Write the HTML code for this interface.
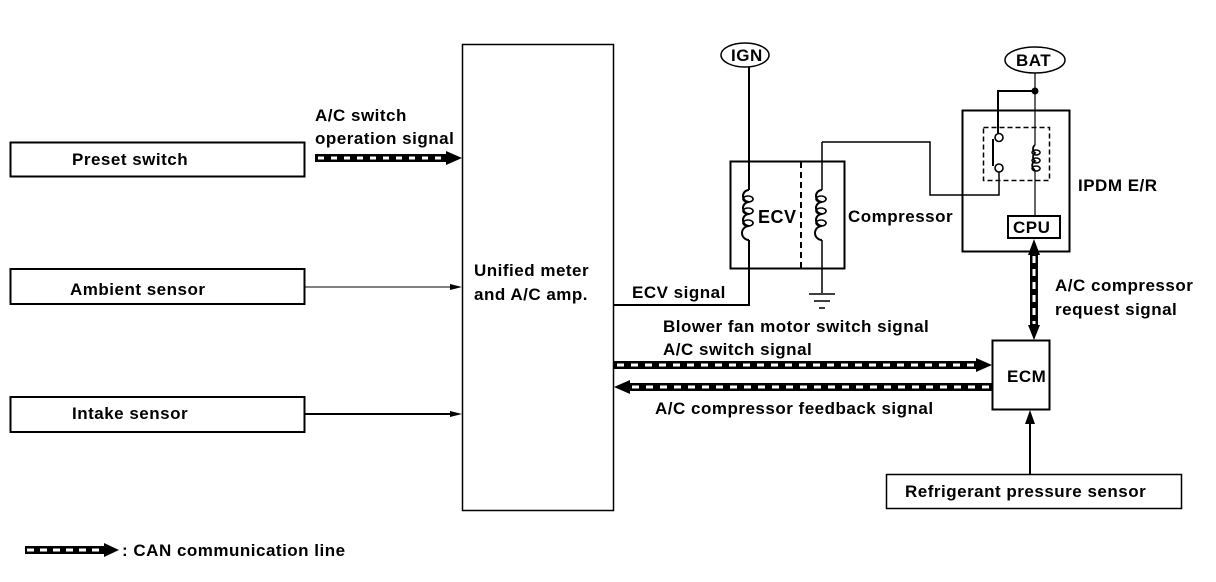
<!DOCTYPE html>
<html><head><meta charset="utf-8"><style>
html,body{margin:0;padding:0;background:#fff;}
svg{display:block;}
text{font-family:"Liberation Sans",sans-serif;font-size:17px;font-weight:bold;letter-spacing:0.5px;fill:#000;}
</style></head><body>
<svg width="1216" height="582" viewBox="0 0 1216 582" xmlns="http://www.w3.org/2000/svg">
<g fill="none" stroke="#000">
<rect x="10.5" y="142.5" width="294" height="34" stroke-width="2"/>
<rect x="10.5" y="269" width="294" height="35" stroke-width="2"/>
<rect x="10.5" y="397" width="294" height="35" stroke-width="2"/>
<rect x="462.5" y="44.5" width="151" height="466" stroke-width="1.5"/>
<line x1="305" y1="287" x2="452" y2="287" stroke-width="1"/>
<path d="M450,284 L462,287 L450,290z" fill="#000" stroke="none"/>
<line x1="305" y1="414" x2="452" y2="414" stroke-width="2"/>
<path d="M450,411 L462,414 L450,417z" fill="#000" stroke="none"/>
<rect x="730.5" y="161.5" width="114" height="107" stroke-width="2"/>
<line x1="801" y1="162" x2="801" y2="268" stroke-width="2" stroke-dasharray="6 4"/>
<ellipse cx="745" cy="55" rx="24" ry="12" stroke-width="1.5"/>
<path d="M749,67 V190 M749,240 V305 H614" stroke-width="2"/>
<path d="M749,190 a6,6 0 0 0 0,12 a6,6 0 0 0 0,12 a6,6 0 0 0 0,12 a6,6 0 0 0 0,14" stroke-width="2"/>
<path d="M748,196 a5,3 0 1 0 0.1,0 M748,208 a5,3 0 1 0 0.1,0 M748,220 a5,3 0 1 0 0.1,0" stroke-width="1.6"/>
<path d="M822,142 V190 M822,240 V293" stroke-width="1.5"/>
<path d="M822,190 a6,6 0 0 0 0,12 a6,6 0 0 0 0,12 a6,6 0 0 0 0,12 a6,6 0 0 0 0,14" stroke-width="2"/>
<path d="M821,196 a5,3 0 1 0 0.1,0 M821,208 a5,3 0 1 0 0.1,0 M821,220 a5,3 0 1 0 0.1,0" stroke-width="1.6"/>
<path d="M809,294 H835 M814,301 H830 M819,308 H825" stroke-width="1.5"/>
<path d="M822,142 H930 V195 H999 V172" stroke-width="1.5"/>
<rect x="962.5" y="110.5" width="107" height="141" stroke-width="2"/>
<rect x="983.5" y="127.5" width="66" height="53" stroke-width="1.5" stroke-dasharray="5 3"/>
<ellipse cx="1035" cy="60" rx="30" ry="13" stroke-width="1.5"/>
<path d="M1035,73 V145 M1035,170 V217" stroke-width="1.2"/>
<path d="M1035,145 a5,5 0 0 0 0,8 a5,5 0 0 0 0,8 a5,5 0 0 0 0,9" stroke-width="1.8"/>
<path d="M1036,150 a4,2.5 0 1 0 0.1,0 M1036,158 a4,2.5 0 1 0 0.1,0 M1036,166 a4,2.5 0 1 0 0.1,0" stroke-width="1.4"/>
<path d="M1035,91 H998 V133" stroke-width="2"/>
<circle cx="999" cy="137.5" r="4" stroke-width="1.6"/>
<circle cx="999" cy="168" r="4" stroke-width="1.6"/>
<line x1="993" y1="139" x2="993" y2="166" stroke-width="2"/>
<rect x="1008" y="216" width="52" height="22" stroke-width="2"/>
<rect x="992.5" y="340.5" width="57" height="69" stroke-width="2"/>
<rect x="886.5" y="474.5" width="295" height="34" stroke-width="1.5"/>
<line x1="1030" y1="474" x2="1030" y2="422" stroke-width="2"/>
</g>
<circle cx="1035" cy="91" r="3.5" fill="#000"/>
<path d="M1025,424 L1030,410 L1035,424z" fill="#000"/>
<g>
<rect x="315" y="154" width="133" height="8" fill="#000"/>
<line x1="318" y1="158" x2="448" y2="158" stroke="#fff" stroke-width="3" stroke-dasharray="6 7"/>
<path d="M446,151 L462,158 L446,165z" fill="#000"/>
<rect x="614" y="361" width="364" height="8" fill="#000"/>
<line x1="617" y1="365" x2="975" y2="365" stroke="#fff" stroke-width="3" stroke-dasharray="7 7"/>
<path d="M976,358 L992,365 L976,372z" fill="#000"/>
<rect x="628" y="383" width="364" height="8" fill="#000"/>
<line x1="632" y1="387" x2="990" y2="387" stroke="#fff" stroke-width="3" stroke-dasharray="7 7"/>
<path d="M630,380 L614,387 L630,394z" fill="#000"/>
<rect x="1030" y="254" width="8" height="72" fill="#000"/>
<line x1="1034" y1="256" x2="1034" y2="324" stroke="#fff" stroke-width="3" stroke-dasharray="7 6"/>
<path d="M1028,255 L1034,239 L1040,255z" fill="#000"/>
<path d="M1028,325 L1034,340 L1040,325z" fill="#000"/>
<rect x="25" y="546" width="80" height="8" fill="#000"/>
<line x1="27" y1="550" x2="104" y2="550" stroke="#fff" stroke-width="3" stroke-dasharray="7 6"/>
<path d="M104,543 L119,550 L104,557z" fill="#000"/>
</g>
<text x="72" y="165">Preset switch</text>
<text x="70" y="295">Ambient sensor</text>
<text x="72" y="419">Intake sensor</text>
<text x="315" y="121">A/C switch</text>
<text x="315" y="144">operation signal</text>
<text x="474" y="276">Unified meter</text>
<text x="474" y="300">and A/C amp.</text>
<text x="632" y="298">ECV signal</text>
<text x="663" y="332">Blower fan motor switch signal</text>
<text x="663" y="355">A/C switch signal</text>
<text x="655" y="414">A/C compressor feedback signal</text>
<text x="1007" y="382">ECM</text>
<text x="905" y="497">Refrigerant pressure sensor</text>
<text x="1055" y="291">A/C compressor</text>
<text x="1055" y="315">request signal</text>
<text x="1078" y="191">IPDM E/R</text>
<text x="1013" y="233">CPU</text>
<text x="848" y="222">Compressor</text>
<text x="758" y="223" style="font-size:18px">ECV</text>
<text x="731" y="61">IGN</text>
<text x="1016" y="66">BAT</text>
<text x="122" y="556">: CAN communication line</text>
</svg>
</body></html>
